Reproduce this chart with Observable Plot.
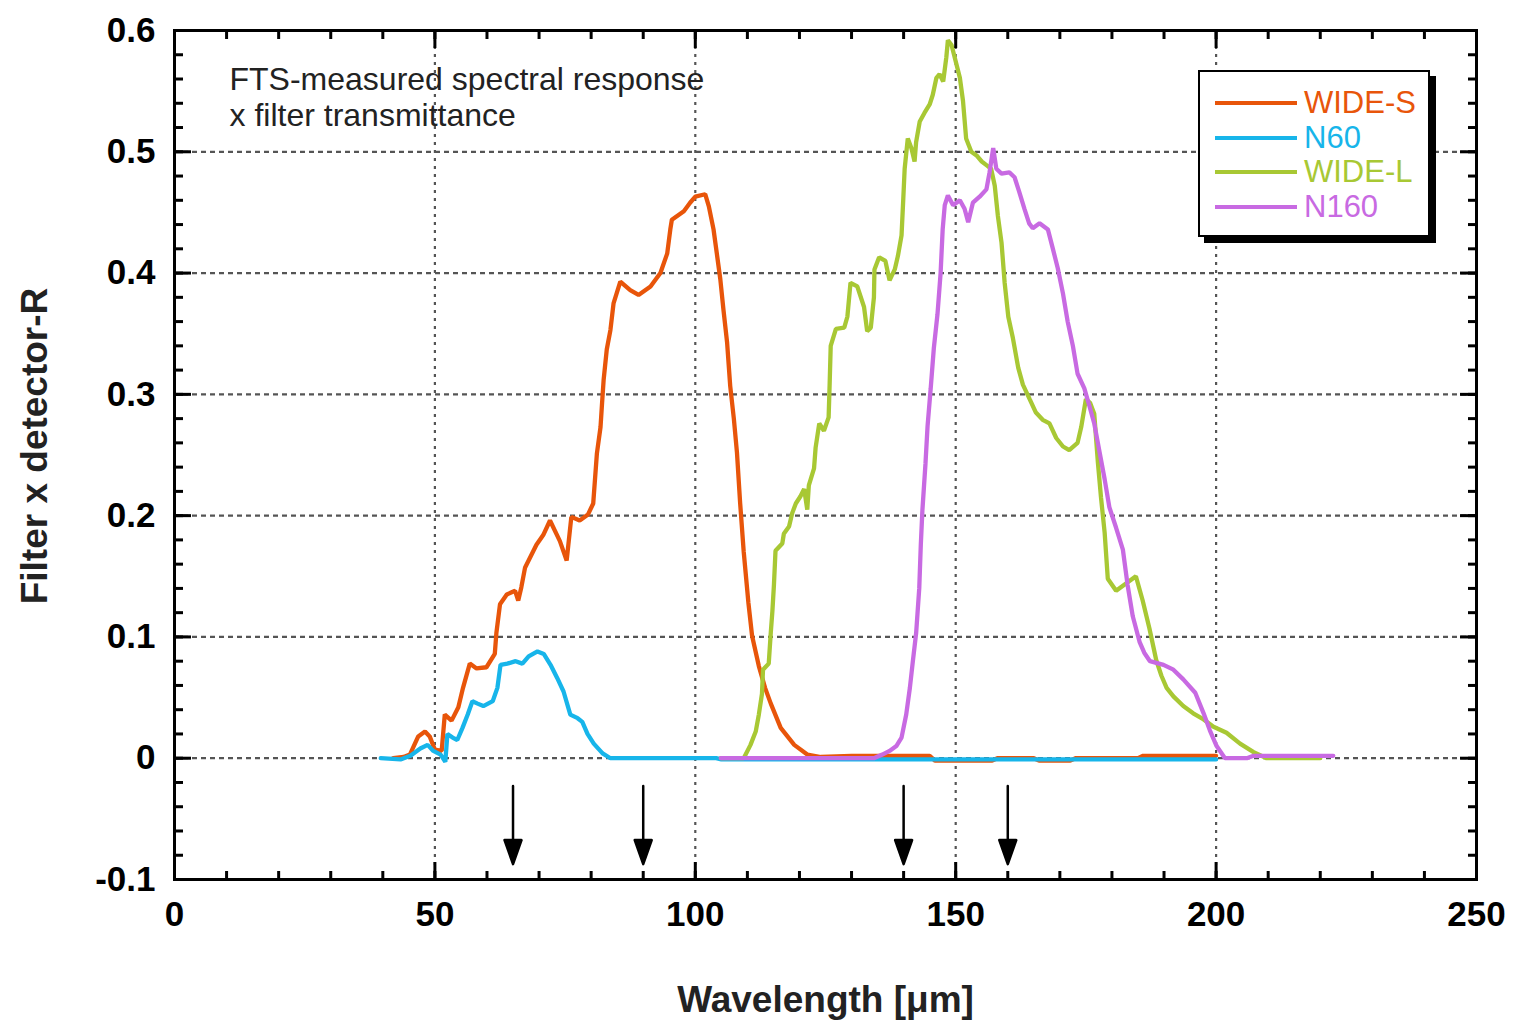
<!DOCTYPE html>
<html>
<head>
<meta charset="utf-8">
<script src="https://cdn.jsdelivr.net/npm/d3@7"></script>
<script src="https://cdn.jsdelivr.net/npm/@observablehq/plot@0.6"></script>
<style>
  body { margin: 0; background: #ffffff; }
  #wrap { position: relative; width: 1518px; height: 1027px; font-family: "Liberation Sans", Arial, sans-serif; }
  #legend { position: absolute; left: 1198px; top: 70px; width: 228px; height: 163px; border: 2.5px solid #000; box-shadow: 6px 6px 0 #000; background: #fff; }
  .lg-row { position: absolute; left: 0; height: 30px; width: 100%; }
  .lg-line { position: absolute; left: 15px; width: 82px; top: 13px; height: 4px; }
  .lg-text { position: absolute; left: 104px; top: 0; font-size: 31px; line-height: 30px; }
</style>
</head>
<body>
<div id="wrap"></div>
<script>
// ---------- data ----------
const seriesNames = ["WIDE-S", "N60", "WIDE-L", "N160"];

const wideS_wl = [42, 44, 45.2, 46.8, 48.1, 49.0, 50.0, 51.3, 51.9, 53.2, 54.5, 55.4, 56.7, 58.0, 59.9, 61.5, 61.8, 62.5, 63.8, 65.4, 66.0, 66.6, 67.3, 69.5, 70.8, 72.1, 74.0, 75.3, 76.2, 77.8, 79.4, 80.4, 81.1, 81.8, 82.1, 82.4, 83.0, 83.7, 84.3, 85.6, 87.5, 89.1, 91.4, 93.3, 94.6, 95.2, 95.5, 97.8, 99.0, 100.0, 101.9, 102.6, 103.5, 104.2, 104.8, 105.4, 106.1, 106.7, 107.4, 108.0, 108.6, 109.3, 110.2, 110.9, 112.2, 113.4, 114.5, 116.4, 119.0, 121.5, 124.1, 130, 145, 146, 157, 158, 165, 166, 172, 173, 185, 186, 200];
const wideS_val = [0, 0.001, 0.003, 0.018, 0.022, 0.018, 0.007, 0.006, 0.036, 0.031, 0.042, 0.058, 0.078, 0.074, 0.075, 0.086, 0.103, 0.127, 0.135, 0.138, 0.130, 0.141, 0.157, 0.176, 0.184, 0.196, 0.179, 0.163, 0.199, 0.196, 0.201, 0.210, 0.251, 0.273, 0.293, 0.312, 0.337, 0.353, 0.375, 0.393, 0.386, 0.382, 0.389, 0.400, 0.416, 0.436, 0.444, 0.451, 0.458, 0.463, 0.465, 0.455, 0.436, 0.414, 0.395, 0.370, 0.343, 0.307, 0.280, 0.252, 0.211, 0.170, 0.128, 0.101, 0.076, 0.058, 0.045, 0.025, 0.011, 0.003, 0.001, 0.002, 0.002, -0.002, -0.002, 0, 0, -0.002, -0.002, 0, 0, 0.002, 0.002];

const n60_wl = [39.6, 43.4, 45.3, 47.2, 48.6, 49.7, 51.1, 52.0, 52.4, 53.4, 54.3, 55.3, 56.3, 57.2, 58.2, 59.3, 61.1, 62.0, 62.6, 63.9, 65.5, 66.8, 68.0, 69.7, 70.9, 72.2, 73.5, 74.7, 76.0, 77.4, 78.3, 79.3, 80.5, 82.2, 83.7, 104, 105, 200];
const n60_val = [0, -0.001, 0.002, 0.008, 0.011, 0.006, 0.003, -0.003, 0.020, 0.017, 0.015, 0.025, 0.036, 0.047, 0.045, 0.043, 0.047, 0.058, 0.077, 0.078, 0.080, 0.078, 0.084, 0.088, 0.086, 0.077, 0.066, 0.055, 0.036, 0.033, 0.030, 0.020, 0.012, 0.004, 0, 0, -0.001, -0.001];

const wideL_wl = [104.9, 109.3, 110.6, 111.6, 112.2, 112.8, 113.0, 114.1, 114.5, 114.8, 115.1, 115.4, 116.7, 117.0, 118.0, 118.6, 119.3, 120.2, 120.9, 121.5, 121.8, 122.8, 123.1, 123.8, 124.7, 125.6, 125.8, 126.0, 127.0, 128.6, 129.2, 129.8, 131.1, 132.4, 133.0, 133.7, 134.3, 134.4, 135.3, 136.5, 137.3, 138.3, 138.9, 139.6, 139.9, 140.2, 140.8, 141.5, 142.1, 142.4, 143.1, 144.0, 145.0, 145.6, 146.3, 146.9, 147.6, 148.2, 148.5, 149.2, 149.8, 150.8, 151.4, 152.0, 153.0, 154.0, 155.0, 155.9, 156.8, 157.5, 158.1, 158.8, 159.4, 160.1, 161.0, 162.0, 162.9, 164.2, 165.4, 166.7, 168.0, 169.3, 170.6, 171.8, 173.4, 174.1, 175.0, 175.8, 176.6, 177.3, 177.9, 178.6, 179.2, 180.8, 182.7, 184.6, 185.9, 187.2, 188.5, 189.5, 190.5, 191.8, 193.7, 195.6, 197.6, 199.5, 202.0, 204.6, 207.2, 209.7, 220];
const wideL_val = [0, 0, 0.011, 0.022, 0.036, 0.053, 0.073, 0.078, 0.104, 0.121, 0.143, 0.171, 0.177, 0.185, 0.191, 0.202, 0.210, 0.216, 0.222, 0.205, 0.225, 0.239, 0.256, 0.276, 0.270, 0.281, 0.309, 0.340, 0.354, 0.355, 0.364, 0.392, 0.389, 0.372, 0.352, 0.355, 0.380, 0.403, 0.413, 0.410, 0.394, 0.403, 0.414, 0.431, 0.458, 0.486, 0.511, 0.503, 0.492, 0.508, 0.525, 0.532, 0.539, 0.547, 0.561, 0.564, 0.558, 0.578, 0.592, 0.588, 0.578, 0.561, 0.542, 0.511, 0.500, 0.497, 0.492, 0.489, 0.486, 0.472, 0.447, 0.425, 0.392, 0.364, 0.346, 0.322, 0.308, 0.296, 0.285, 0.279, 0.276, 0.264, 0.257, 0.254, 0.260, 0.273, 0.296, 0.293, 0.284, 0.244, 0.215, 0.186, 0.148, 0.138, 0.144, 0.150, 0.130, 0.107, 0.081, 0.068, 0.058, 0.051, 0.043, 0.037, 0.032, 0.026, 0.021, 0.012, 0.005, 0, 0];

const n160_wl = [104.9, 134.3, 135.9, 137.3, 138.6, 139.6, 140.5, 141.2, 141.8, 142.4, 143.0, 143.3, 143.6, 144.2, 144.6, 145.2, 145.8, 146.5, 147.1, 147.5, 147.9, 148.5, 149.5, 150.8, 151.7, 152.4, 153.3, 154.6, 155.9, 156.5, 157.2, 157.8, 158.8, 160.3, 161.3, 162.2, 163.2, 164.1, 164.8, 166.1, 167.7, 168.6, 169.6, 170.6, 171.5, 172.5, 173.4, 174.7, 175.7, 176.6, 177.6, 178.6, 179.5, 180.8, 182.1, 183.0, 184.0, 185.3, 186.2, 187.3, 189.9, 191.8, 193.7, 196.0, 197.6, 198.8, 200.1, 201.7, 205.9, 207.2, 222.5];
const n160_val = [0, 0, 0.003, 0.006, 0.010, 0.017, 0.036, 0.058, 0.081, 0.103, 0.140, 0.176, 0.204, 0.243, 0.274, 0.305, 0.338, 0.366, 0.400, 0.436, 0.456, 0.464, 0.456, 0.460, 0.453, 0.442, 0.458, 0.463, 0.469, 0.483, 0.503, 0.486, 0.482, 0.483, 0.479, 0.467, 0.453, 0.441, 0.437, 0.441, 0.436, 0.421, 0.404, 0.383, 0.360, 0.340, 0.317, 0.305, 0.290, 0.276, 0.253, 0.230, 0.207, 0.190, 0.172, 0.143, 0.117, 0.096, 0.087, 0.080, 0.077, 0.073, 0.065, 0.054, 0.037, 0.023, 0.010, 0, 0, 0.002, 0.002];

const bandArrows = [65, 90, 140, 160];
const arrowTop = -0.023;

const xMajorTicks = [0, 50, 100, 150, 200, 250];
const xMinorTicks = d3.range(0, 251, 10);
const yMajorTicks = [-0.1, 0, 0.1, 0.2, 0.3, 0.4, 0.5, 0.6];
const yMinorTicks = d3.range(-0.1, 0.6001, 0.02).map(v => +v.toFixed(2));
const xGridTicks = [50, 100, 150, 200];
const yGridTicks = [0, 0.1, 0.2, 0.3, 0.4, 0.5];

const xLabel = "Wavelength [\u03bcm]";
const yLabel = "Filter x detector-R";
const noteText = "FTS-measured spectral response\nx filter transmittance";

// ---------- styling ----------
const colors = {"WIDE-S": "#e8550a", "N60": "#17b5ea", "WIDE-L": "#a8c834", "N160": "#c86ae2"};
const FONT = '"Liberation Sans", Arial, sans-serif';

const seriesData = [
  [wideS_wl, wideS_val], [n60_wl, n60_val], [wideL_wl, wideL_val], [n160_wl, n160_val]
];
const rows = [];
seriesData.forEach(([wl, val], i) => {
  wl.forEach((w, j) => rows.push({series: seriesNames[i], wl: w, val: val[j]}));
});

const arrowShape = {
  draw(context, l) {
    context.moveTo(0, 0);
    context.lineTo(0, -l + 20);
    context.moveTo(-8.5, -l + 24);
    context.lineTo(8.5, -l + 24);
    context.lineTo(0, -l);
    context.closePath();
  }
};

const blank = () => "";

const chart = Plot.plot({
  width: 1518,
  height: 1027,
  marginLeft: 174,
  marginRight: 42,
  marginTop: 30,
  marginBottom: 148,
  x: {domain: [0, 250]},
  y: {domain: [-0.1, 0.6]},
  style: {fontFamily: FONT, background: "transparent", overflow: "visible", color: "#000"},
  marks: [
    Plot.gridX(xGridTicks, {stroke: "#555", strokeOpacity: 1, strokeWidth: 2.2, strokeDasharray: "3,5"}),
    Plot.gridY(yGridTicks, {stroke: "#555", strokeOpacity: 1, strokeWidth: 2.2, strokeDasharray: "5,4"}),
    Plot.line(rows, {x: "wl", y: "val", z: "series", stroke: d => colors[d.series], strokeWidth: 4.3, strokeLinejoin: "miter"}),
    Plot.vector(bandArrows, {x: d => d, y: arrowTop, anchor: "start", rotate: 180, length: 78, shape: arrowShape, stroke: "#000", fill: "#000", strokeWidth: 2.5}),
    Plot.text([noteText], {frameAnchor: "top-left", dx: 55, dy: 33, lineAnchor: "top", textAnchor: "start", fontSize: 32, lineHeight: 1.15, fill: "#222", style: "letter-spacing:0.5px"}),
    // tick labels
    Plot.axisX(xMajorTicks, {anchor: "bottom", tickSize: 0, tickPadding: 22, fontSize: 35, fontWeight: "bold", label: null, tickFormat: d => String(d), style: "letter-spacing:3px"}),
    Plot.axisY(yMajorTicks, {anchor: "left", tickSize: 0, tickPadding: 19, fontSize: 35, fontWeight: "bold", label: null, tickFormat: d => (d === 0 ? "0" : String(d)), style: "letter-spacing:3px"}),
    // inward ticks on all sides
    Plot.axisX(xMajorTicks, {anchor: "bottom", tickSize: -17, strokeWidth: 3, tickFormat: blank, label: null}),
    Plot.axisX(xMinorTicks, {anchor: "bottom", tickSize: -8, strokeWidth: 3, tickFormat: blank, label: null}),
    Plot.axisX(xMajorTicks, {anchor: "top", tickSize: -17, strokeWidth: 3, tickFormat: blank, label: null}),
    Plot.axisX(xMinorTicks, {anchor: "top", tickSize: -8, strokeWidth: 3, tickFormat: blank, label: null}),
    Plot.axisY(yMajorTicks, {anchor: "left", tickSize: -17, strokeWidth: 3, tickFormat: blank, label: null}),
    Plot.axisY(yMinorTicks, {anchor: "left", tickSize: -9, strokeWidth: 3, tickFormat: blank, label: null}),
    Plot.axisY(yMajorTicks, {anchor: "right", tickSize: -17, strokeWidth: 3, tickFormat: blank, label: null}),
    Plot.axisY(yMinorTicks, {anchor: "right", tickSize: -9, strokeWidth: 3, tickFormat: blank, label: null}),
    Plot.frame({stroke: "#000", strokeWidth: 3}),
    // axis titles
    Plot.text([xLabel], {frameAnchor: "bottom", dy: 121, textAnchor: "middle", lineAnchor: "middle", fontSize: 37, fontWeight: "bold", fill: "#222", style: "letter-spacing:1px"}),
    Plot.text([yLabel], {frameAnchor: "left", dx: -139, dy: -9, textAnchor: "middle", lineAnchor: "middle", rotate: -90, fontSize: 37, fontWeight: "bold", fill: "#222", style: "letter-spacing:0.6px"})
  ]
});

const wrap = document.getElementById("wrap");
wrap.appendChild(chart);

// legend (HTML overlay, built from the series names)
const legend = document.createElement("div");
legend.id = "legend";
seriesNames.forEach((name, i) => {
  const row = document.createElement("div");
  row.className = "lg-row";
  row.style.top = (16 + i * 34.7) + "px";
  const ln = document.createElement("div");
  ln.className = "lg-line";
  ln.style.background = colors[name];
  const tx = document.createElement("div");
  tx.className = "lg-text";
  tx.style.color = colors[name];
  tx.textContent = name;
  row.appendChild(ln);
  row.appendChild(tx);
  legend.appendChild(row);
});
wrap.appendChild(legend);
</script>
</body>
</html>
